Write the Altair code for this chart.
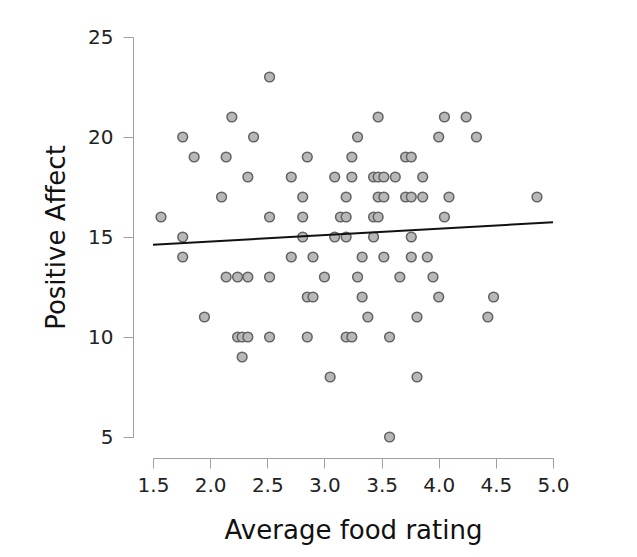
import altair as alt
import pandas as pd

food_rating = [1.57, 1.76, 1.76, 1.76, 1.86, 1.95, 2.10, 2.14, 2.14, 2.19,
               2.24, 2.24, 2.28, 2.28, 2.33, 2.33, 2.33, 2.38, 2.52, 2.52,
               2.52, 2.52, 2.71, 2.71, 2.81, 2.81, 2.81, 2.85, 2.85, 2.90,
               2.90, 2.85, 3.00, 3.05, 3.09, 3.09, 3.14, 3.19, 3.19, 3.19,
               3.19, 3.24, 3.24, 3.24, 3.29, 3.29, 3.33, 3.33, 3.38, 3.43,
               3.43, 3.43, 3.47, 3.47, 3.47, 3.47, 3.52, 3.52, 3.52, 3.57,
               3.57, 3.62, 3.66, 3.71, 3.71, 3.76, 3.76, 3.76, 3.76, 3.81,
               3.81, 3.86, 3.86, 3.90, 3.95, 4.00, 4.00, 4.05, 4.05, 4.09,
               4.24, 4.33, 4.43, 4.48, 4.86]
positive_affect = [16, 20, 15, 14, 19, 11, 17, 19, 13, 21,
                   13, 10, 9, 10, 10, 18, 13, 20, 23, 16,
                   13, 10, 18, 14, 17, 16, 15, 19, 12, 12,
                   14, 10, 13, 8, 18, 15, 16, 17, 16, 15,
                   10, 10, 19, 18, 20, 13, 14, 12, 11, 18,
                   16, 15, 21, 18, 17, 16, 18, 17, 14, 10,
                   5, 18, 13, 19, 17, 19, 17, 15, 14, 11,
                   8, 18, 17, 14, 13, 20, 12, 21, 16, 17,
                   21, 20, 11, 12, 17]

x_ticks = [1.5, 2.0, 2.5, 3.0, 3.5, 4.0, 4.5, 5.0]
y_ticks = [5, 10, 15, 20, 25]

df = pd.DataFrame({"rating": food_rating, "affect": positive_affect})

FONT = "DejaVu Sans"

x = alt.X("rating:Q",
          scale=alt.Scale(domain=[1.5, 5.0], nice=False, zero=False),
          axis=alt.Axis(title="Average food rating", values=x_ticks, format=".1f",
                        grid=False, offset=21, tickSize=10, labelPadding=7,
                        titlePadding=22, domainColor="#a0a0a0", tickColor="#a0a0a0",
                        labelFont=FONT, labelFontSize=20, labelColor="#222222",
                        titleFont=FONT, titleFontSize=26, titleFontWeight="normal",
                        titleColor="#111111", labelFlush=False))
y = alt.Y("affect:Q",
          scale=alt.Scale(domain=[5, 25], nice=False, zero=False),
          axis=alt.Axis(title="Positive Affect", values=y_ticks,
                        grid=False, offset=20, tickSize=10, labelPadding=10,
                        titlePadding=18, domainColor="#a0a0a0", tickColor="#a0a0a0",
                        labelFont=FONT, labelFontSize=20, labelColor="#222222",
                        titleFont=FONT, titleFontSize=26, titleFontWeight="normal",
                        titleColor="#111111", labelFlush=False))

points = alt.Chart(df).mark_circle(
    size=95, color="#b8b8b8", opacity=1, stroke="#636363", strokeWidth=1.5
).encode(x=x, y=y)

line = alt.Chart(df).transform_regression(
    "rating", "affect", extent=[1.5, 5.0]
).mark_line(color="#111111", strokeWidth=2).encode(x=x, y=y)

chart = (points + line).properties(
    width=400, height=400,
    padding={"left": 145, "top": 29, "right": 76, "bottom": 112},
    autosize=alt.AutoSizeParams(type="none"),
).configure_view(stroke=None)

chart.save("out.html", embed_options={"renderer": "svg", "actions": False})
